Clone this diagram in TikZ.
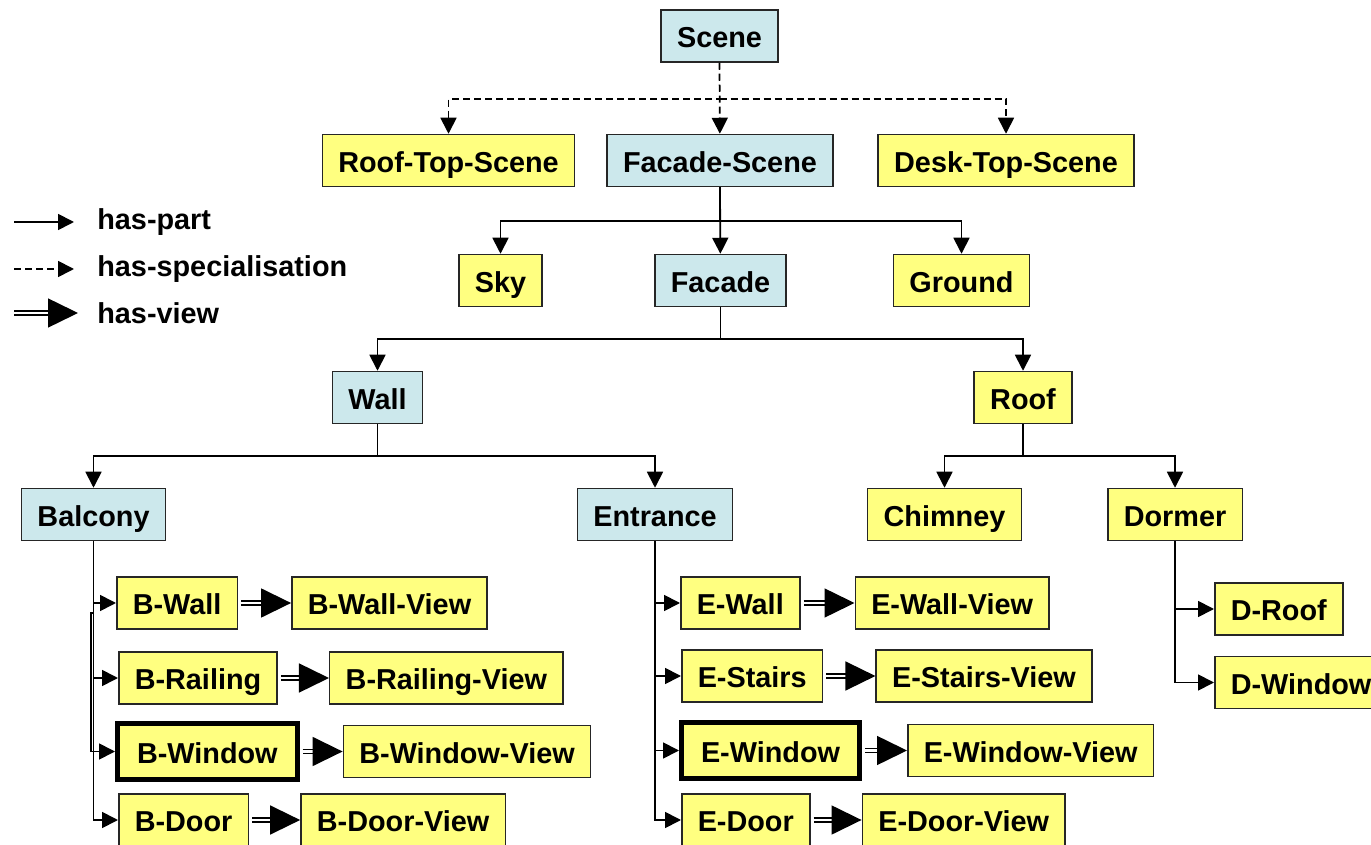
\documentclass[tikz,border=0pt]{standalone}
\usepackage{fontspec}
\setmainfont{Liberation Sans}
\usetikzlibrary{arrows.meta,positioning,calc}

\definecolor{partyellow}{RGB}{255,255,128}
\definecolor{sceneblue}{RGB}{204,232,236}

\begin{document}
\begin{tikzpicture}[
    font=\bfseries\fontsize{16.4}{20}\selectfont,
    box/.style={draw=black!85, line width=0.03cm, minimum height=1.04cm,
      inner xsep=0.32cm, inner ysep=0pt, text height=13.2pt, text depth=0pt},
    concept/.style={box, fill=sceneblue},
    leaf/.style={box, fill=partyellow},
    focus/.style={leaf, draw=black, line width=0.1cm, minimum height=1.12cm,
      inner xsep=0.39cm},
    part/.style={line width=0.035cm, -{Triangle[length=0.32cm,width=0.32cm]}},
    spec/.style={part, dash pattern=on 0.14cm off 0.08cm},
    view/.style={line width=0.03cm, double, double distance=0.05cm,
      -{Triangle[length=0.6cm,width=0.58cm]}, shorten <=0.06cm},
    legend/.style={anchor=west, inner sep=0pt},
  ]
  \useasboundingbox (0,0) rectangle (27.42,16.88);
  \clip (0,0) rectangle (27.42,16.88);

  % Scene and its specialisations
  \node[concept] (scene) at (14.39,16.16) {Scene};
  \node[leaf] (rooftop) at (8.97,13.67) {Roof-Top-Scene};
  \node[concept] (facadescene) at (14.40,13.67) {Facade-Scene};
  \node[leaf] (desktop) at (20.12,13.67) {Desk-Top-Scene};

  % Facade scene parts
  \node[leaf] (sky) at (10.01,11.27) {Sky};
  \node[concept] (facade) at (14.41,11.27) {Facade};
  \node[leaf] (ground) at (19.23,11.27) {Ground};

  % Facade parts
  \node[concept] (wall) at (7.55,8.93) {Wall};
  \node[leaf] (roof) at (20.46,8.93) {Roof};

  \node[concept] (balcony) at (1.87,6.59) {Balcony};
  \node[concept] (entrance) at (13.10,6.59) {Entrance};
  \node[leaf] (chimney) at (18.89,6.59) {Chimney};
  \node[leaf] (dormer) at (23.50,6.59) {Dormer};

  % Balcony parts and views
  \node[leaf, anchor=west] (bwall) at (2.32,4.82) {B-Wall};
  \node[leaf, anchor=west] (brail) at (2.36,3.32) {B-Railing};
  \node[focus, anchor=west] (bwin) at (2.30,1.85) {B-Window};
  \node[leaf, anchor=west] (bdoor) at (2.36,0.48) {B-Door};
  \node[leaf, right=1.06cm of bwall] (bwallview) {B-Wall-View};
  \node[leaf, right=1.02cm of brail] (brailview) {B-Railing-View};
  \node[leaf, right=0.86cm of bwin] (bwinview) {B-Window-View};
  \node[leaf, right=1.02cm of bdoor] (bdoorview) {B-Door-View};

  % Entrance parts and views
  \node[leaf, anchor=west] (ewall) at (13.60,4.82) {E-Wall};
  \node[leaf, anchor=west] (estairs) at (13.62,3.36) {E-Stairs};
  \node[focus, anchor=west] (ewin) at (13.58,1.87) {E-Window};
  \node[leaf, anchor=west] (edoor) at (13.62,0.48) {E-Door};
  \node[leaf, right=1.08cm of ewall] (ewallview) {E-Wall-View};
  \node[leaf, right=1.04cm of estairs] (estairsview) {E-Stairs-View};
  \node[leaf, right=0.90cm of ewin] (ewinview) {E-Window-View};
  \node[leaf, right=1.02cm of edoor] (edoorview) {E-Door-View};

  % Dormer parts
  \node[leaf, anchor=west] (droof) at (24.28,4.70) {D-Roof};
  \node[leaf, anchor=west] (dwin) at (24.28,3.23) {D-Window};

  % Specialisation edges
  \draw[spec] (scene.south) -- ++(0,-0.72) coordinate (specbus) -| (rooftop);
  \draw[spec] (specbus) -| (desktop);
  \draw[spec] (scene.south) -- (facadescene);

  % Part edges
  \draw[part] (facadescene.south) -- ++(0,-0.68) coordinate (fsbus) -| (sky);
  \draw[part] (fsbus) -| (ground);
  \draw[part] (facadescene.south) -- (facade);
  \draw[part] (facade.south) -- ++(0,-0.64) coordinate (fbus) -| (wall);
  \draw[part] (fbus) -| (roof);
  \draw[part] (wall.south) -- ++(0,-0.64) coordinate (wbus) -| (balcony);
  \draw[part] (wbus) -| (entrance);
  \draw[part] (roof.south) -- ++(0,-0.64) coordinate (rbus) -| (chimney);
  \draw[part] (rbus) -| (dormer);

  \foreach \n in {bwall, brail, bdoor}
    \draw[part] (balcony.south) |- (\n);
  \coordinate (bjog) at ($(balcony.south)+(-0.05,-1.44)$);
  \draw[part] (balcony.south |- bjog) -- (bjog) |- (bwin);
  \foreach \n in {ewall, estairs, ewin, edoor}
    \draw[part] (entrance.south) |- (\n);
  \foreach \n in {droof, dwin}
    \draw[part] (dormer.south) |- (\n);

  % View edges
  \draw[view] (bwall) -- (bwallview);
  \draw[view] (brail) -- (brailview);
  \draw[view] (bwin) -- (bwinview);
  \draw[view] (bdoor) -- (bdoorview);
  \draw[view] (ewall) -- (ewallview);
  \draw[view] (estairs) -- (estairsview);
  \draw[view] (ewin) -- (ewinview);
  \draw[view] (edoor) -- (edoorview);

  % Legend
  \coordinate (lparta) at (0.28,12.44);
  \coordinate (lpartb) at (1.48,12.44);
  \coordinate (lspeca) at (0.28,11.50);
  \coordinate (lspecb) at (1.48,11.50);
  \coordinate (lviewa) at (0.22,10.62);
  \coordinate (lviewb) at (1.56,10.62);
  \draw[part] (lparta) -- (lpartb);
  \draw[spec] (lspeca) -- (lspecb);
  \draw[view] (lviewa) -- (lviewb);
  \node[legend] at (1.94,12.44) {has-part};
  \node[legend] at (1.94,11.50) {has-specialisation};
  \node[legend] at (1.94,10.62) {has-view};
\end{tikzpicture}
\end{document}
